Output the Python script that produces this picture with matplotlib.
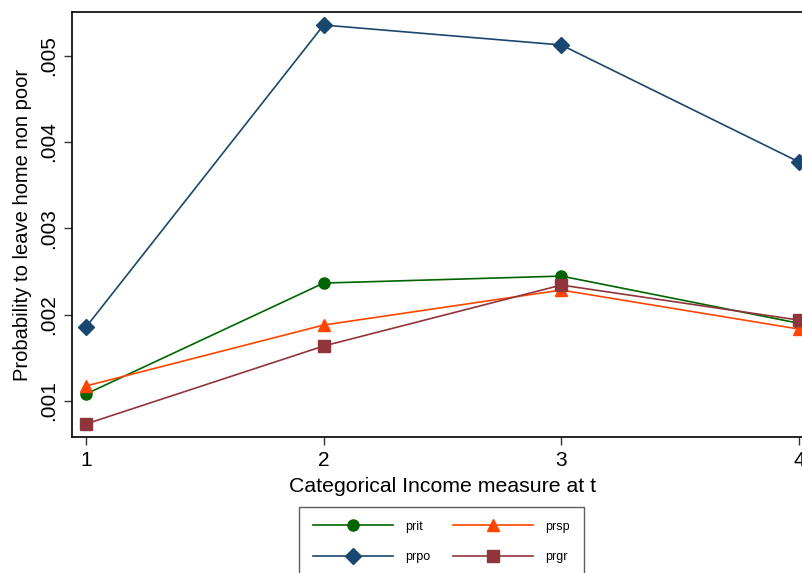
import matplotlib.pyplot as plt
from matplotlib.ticker import FixedLocator

plt.rcParams['font.family'] = ['Liberation Sans', 'DejaVu Sans']

# income category at t
x = [1, 2, 3, 4]

# predicted probabilities
prit = [0.001081, 0.002366, 0.002447, 0.001900]
prsp = [0.001174, 0.001880, 0.002285, 0.001833]
prpo = [0.001856, 0.005355, 0.005124, 0.003769]
prgr = [0.000734, 0.001637, 0.002343, 0.001937]

yticks = [0.001, 0.002, 0.003, 0.004, 0.005]
ytick_labels = ['.001', '.002', '.003', '.004', '.005']

fig = plt.figure(figsize=(8.02, 5.73), dpi=100)
ax = fig.add_axes([72 / 802, 1 - 437 / 573, 741 / 802, 425 / 573])

lw = 1.2
ax.plot(x, prit, color='#006400', marker='o', markersize=8, lw=lw, label='prit')
ax.plot(x, prsp, color='#ff4500', marker='^', markersize=9, lw=lw, label='prsp')
ax.plot(x, prpo, color='#1a476f', marker='D', markersize=8, lw=lw, label='prpo')
ax.plot(x, prgr, color='#90353b', marker='s', markersize=8, lw=lw, label='prgr')

ax.set_xlim(1 - 0.0589, 4 + 0.0589)
ax.set_ylim(0.000583, 0.005506)
ax.set_xticks(x)
ax.set_xticklabels([str(v) for v in x], fontsize=15)
ax.yaxis.set_major_locator(FixedLocator(yticks))
ax.set_yticklabels(ytick_labels, fontsize=15, rotation=90, va='center')
ax.tick_params(direction='out', length=6, width=1, color='#333333', pad=4)

for s in ax.spines.values():
    s.set_color('black')
    s.set_linewidth(1.2)

ax.set_xlabel('Categorical Income measure at t', fontsize=15.3, labelpad=5)
ax.set_ylabel('Probability to leave home non poor', fontsize=14.5, labelpad=5)

# legend order as in the picture: prit, prsp / prpo, prgr
h, l = ax.get_legend_handles_labels()
order = [0, 2, 1, 3]
leg = fig.legend([h[i] for i in order], [l[i] for i in order], ncol=2,
                 loc='upper left', bbox_to_anchor=(299 / 802, 1 - 507 / 573),
                 fontsize=9, frameon=True, fancybox=False, handlelength=6.4,
                 handletextpad=1.0, columnspacing=1.8, labelspacing=1.45,
                 borderpad=1.1, borderaxespad=0)
leg.get_frame().set_edgecolor('#333333')
leg.get_frame().set_linewidth(1.0)

fig.savefig('out.png', dpi=100)
